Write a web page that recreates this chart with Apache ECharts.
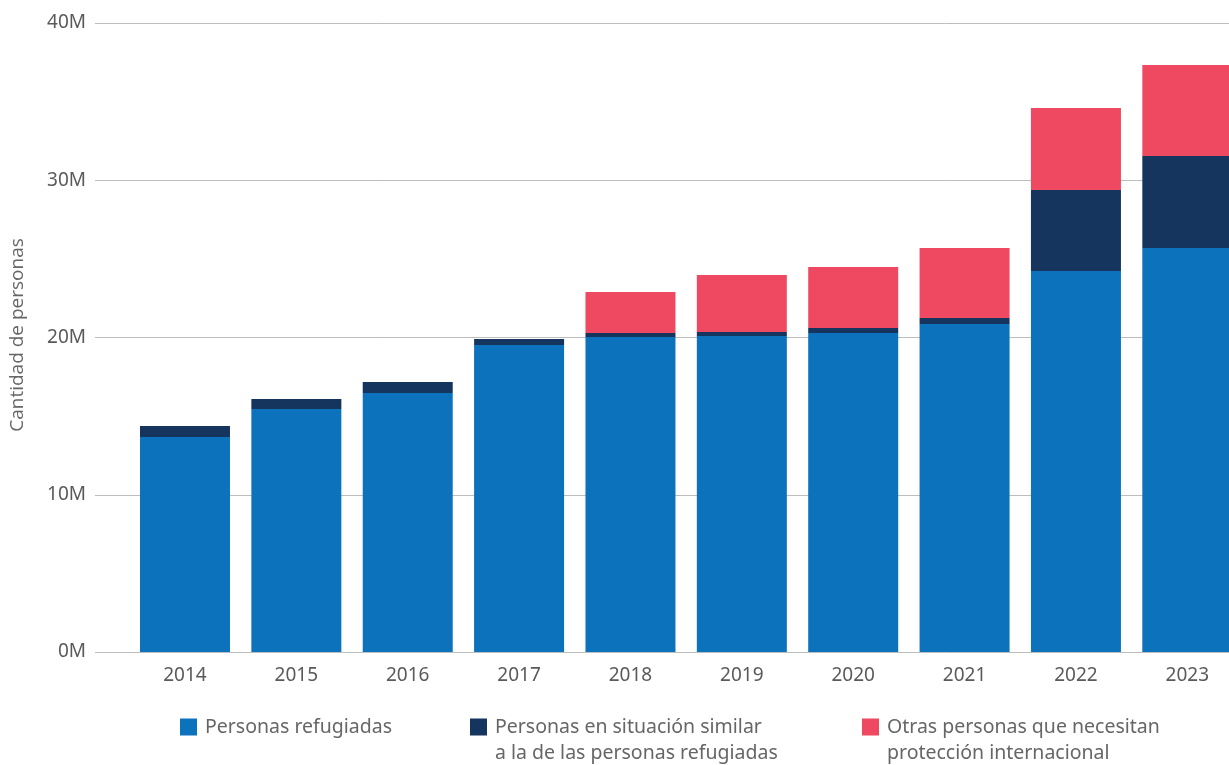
<!DOCTYPE html>
<html><head><meta charset="utf-8">
<script src="https://cdn.jsdelivr.net/npm/echarts@6/dist/echarts.min.js"></script>
<style>html,body{margin:0;padding:0;background:#fff;overflow:hidden}#c{width:1243px;height:765px}</style>
</head><body><div id="c"></div>
<script>
const categories = ['2014','2015','2016','2017','2018','2019','2020','2021','2022','2023'];
const refugiadas = [13.67, 15.45, 16.47, 19.52, 20.03, 20.10, 20.29, 20.86, 24.23, 25.69];
const similar    = [0.70, 0.64, 0.70, 0.38, 0.25, 0.25, 0.32, 0.38, 5.15, 5.85];
const otras      = [0, 0, 0, 0, 2.61, 3.62, 3.88, 4.45, 5.21, 5.79];
const yTicks = [0, 10, 20, 30, 40];
const seriesNames = ['Personas refugiadas', 'Personas en situación similar\na la de las personas refugiadas', 'Otras personas que necesitan\nprotección internacional'];
const colors = ['#0b72bb', '#15355f', '#ef4961'];

const font = '"Noto Sans", "Open Sans", sans-serif';
const chart = echarts.init(document.getElementById('c'));
const yMin = yTicks[0], yMax = yTicks[yTicks.length-1], yInt = yTicks[1]-yTicks[0];
const tallIcon = 'path://M0,0 L17,0 L17,17 L0,17 Z M0,43 L0.01,43 L0.01,43.01 Z';
function mkLegend(i, left, twoLine){
  return {
    data: [seriesNames[i]], left: left, top: 709, itemWidth: 17, itemHeight: twoLine ? 43 : 17,
    icon: twoLine ? tallIcon : 'rect', itemGap: 0, selectedMode: false,
    textStyle: {fontFamily: font, fontSize: 19.5, color: '#666', lineHeight: 26, padding: [0, 0, 0, 3]}
  };
}
chart.setOption({
  animation: false,
  grid: [
    {left: 95, right: 14, top: 23, bottom: 113},
    {left: 129.3, right: 0, top: 23, bottom: 113}
  ],
  xAxis: [
    {gridIndex: 0, type: 'category', data: categories, show: false},
    {gridIndex: 1, type: 'category', data: categories,
     axisLine: {show: false}, axisTick: {show: false},
     axisLabel: {fontFamily: font, fontSize: 19, color: '#5a5a5a', margin: 14}}
  ],
  yAxis: [
    {gridIndex: 0, type: 'value', min: yMin, max: yMax, interval: yInt,
     axisLine: {show: false}, axisTick: {show: false},
     axisLabel: {fontFamily: font, fontSize: 19, color: '#5a5a5a', margin: 9, formatter: v => v + 'M'},
     splitLine: {lineStyle: {color: '#bdbdbd', width: 1}}},
    {gridIndex: 1, type: 'value', min: yMin, max: yMax, interval: yInt, show: false, splitLine: {show: false}}
  ],
  legend: [
    mkLegend(0, 175, false),
    mkLegend(1, 465, true),
    mkLegend(2, 857, true)
  ],
  graphic: [{
    type: 'text', x: 18, y: 335, rotation: Math.PI/2,
    style: {text: 'Cantidad de personas', fontFamily: '"Open Sans", sans-serif', fontSize: 19, fill: '#666',
            textAlign: 'center', textVerticalAlign: 'middle'}
  }],
  series: [refugiadas, similar, otras].map((d, i) => ({
    name: seriesNames[i], type: 'bar', stack: 'total', xAxisIndex: 1, yAxisIndex: 1,
    data: d, barWidth: 90, itemStyle: {color: colors[i]}
  }))
});
</script></body></html>
